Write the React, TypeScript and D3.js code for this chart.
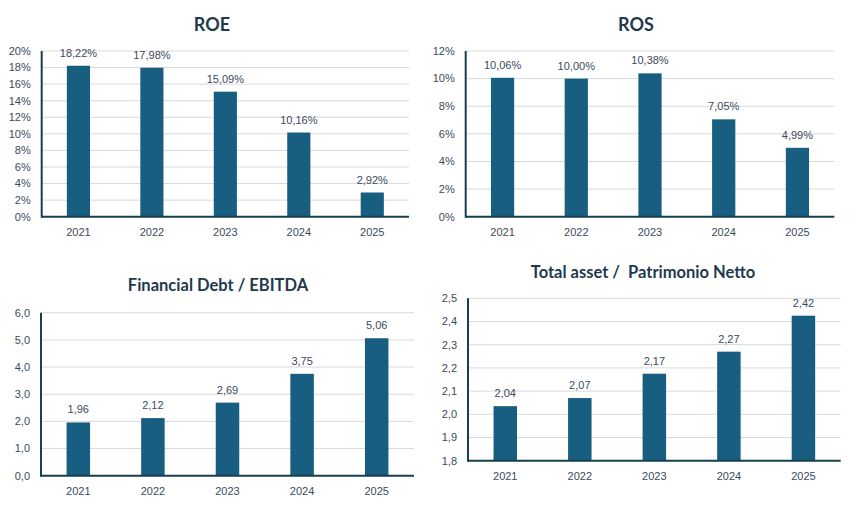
import React from "react";
import * as d3 from "d3";

const years = ["2021", "2022", "2023", "2024", "2025"];

const roeValues = [18.22, 17.98, 15.09, 10.16, 2.92];
const roeTicks = [0, 2, 4, 6, 8, 10, 12, 14, 16, 18, 20];

const rosValues = [10.06, 10.0, 10.38, 7.05, 4.99];
const rosTicks = [0, 2, 4, 6, 8, 10, 12];

const debtValues = [1.96, 2.12, 2.69, 3.75, 5.06];
const debtTicks = [0, 1, 2, 3, 4, 5, 6];

const assetValues = [2.035, 2.07, 2.175, 2.27, 2.425];
const assetLabels = ["2,04", "2,07", "2,17", "2,27", "2,42"];
const assetTicks = [1.8, 1.9, 2.0, 2.1, 2.2, 2.3, 2.4, 2.5];

const BAR = "#175e80";
const AXIS = "#153f52";
const GRID = "#d9d9d9";
const TEXT = "#3b4a5c";
const TITLE = "#1f3a4d";
const FONT = "'Liberation Sans', Arial, sans-serif";
const TITLE_FONT = "Lato, 'Open Sans', sans-serif";

const comma = (s: string) => s.replace(".", ",");

interface PanelProps {
  title: string;
  titleX: number;
  titleY: number;
  titleSize: number;
  x0: number;
  x1: number;
  yTop: number;
  yBottom: number;
  values: number[];
  ticks: number[];
  tickFmt: (v: number) => string;
  labelFmt: (v: number, i: number) => string;
}

const Panel: React.FC<PanelProps> = (p) => {
  const x = d3
    .scaleBand<string>()
    .domain(years)
    .range([p.x0, p.x1])
    .paddingInner(0.685)
    .paddingOuter(0.3425);
  const y = d3
    .scaleLinear()
    .domain([p.ticks[0], p.ticks[p.ticks.length - 1]])
    .range([p.yBottom, p.yTop]);

  return (
    <g>
      <text
        x={p.titleX}
        y={p.titleY}
        textAnchor="middle"
        dominantBaseline="central"
        fontFamily={TITLE_FONT}
        fontWeight={700}
        fontSize={p.titleSize}
        fill={TITLE}
        style={{ whiteSpace: "pre" }}
      >
        {p.title}
      </text>
      {p.ticks.map((t, i) => (
        <g key={i}>
          {i > 0 && (
            <line x1={p.x0} x2={p.x1} y1={y(t)} y2={y(t)} stroke={GRID} strokeWidth={1} />
          )}
          <text
            x={p.x0 - 11}
            y={y(t)}
            dy="0.35em"
            textAnchor="end"
            fontFamily={FONT}
            fontSize={11}
            fill={TEXT}
          >
            {p.tickFmt(t)}
          </text>
        </g>
      ))}
      {p.values.map((v, i) => (
        <g key={years[i]}>
          <rect
            x={x(years[i])}
            y={y(v)}
            width={x.bandwidth()}
            height={p.yBottom - y(v)}
            fill={BAR}
          />
          <text
            x={(x(years[i]) || 0) + x.bandwidth() / 2}
            y={y(v) - 9}
            textAnchor="middle"
            fontFamily={FONT}
            fontSize={11}
            fill={TEXT}
          >
            {p.labelFmt(v, i)}
          </text>
          <text
            x={(x(years[i]) || 0) + x.bandwidth() / 2}
            y={p.yBottom + 19}
            textAnchor="middle"
            fontFamily={FONT}
            fontSize={11}
            fill={TEXT}
          >
            {years[i]}
          </text>
        </g>
      ))}
      <line x1={p.x0} x2={p.x1} y1={p.yBottom} y2={p.yBottom} stroke={AXIS} strokeWidth={2} />
      <line x1={p.x0} x2={p.x0} y1={p.yTop} y2={p.yBottom + 1} stroke={AXIS} strokeWidth={2} />
    </g>
  );
};

const pct = (v: number) => `${v}%`;
const pct2 = (v: number) => comma(v.toFixed(2)) + "%";
const one = (v: number) => comma(v.toFixed(1));
const two = (v: number) => comma(v.toFixed(2));

export default function App() {
  return (
    <svg
      width={857}
      height={520}
      style={{ position: "absolute", left: 0, top: 0, background: "#fff" }}
    >
      <Panel
        title="ROE"
        titleX={212}
        titleY={24}
        titleSize={18}
        x0={41.7}
        x1={409}
        yTop={51}
        yBottom={216.7}
        values={roeValues}
        ticks={roeTicks}
        tickFmt={pct}
        labelFmt={pct2}
      />
      <Panel
        title="ROS"
        titleX={636}
        titleY={24}
        titleSize={18}
        x0={465.7}
        x1={834.3}
        yTop={51}
        yBottom={216.7}
        values={rosValues}
        ticks={rosTicks}
        tickFmt={pct}
        labelFmt={pct2}
      />
      <Panel
        title="Financial Debt / EBITDA"
        titleX={218}
        titleY={285}
        titleSize={16.5}
        x0={41}
        x1={414}
        yTop={312.7}
        yBottom={475.7}
        values={debtValues}
        ticks={debtTicks}
        tickFmt={one}
        labelFmt={two}
      />
      <Panel
        title="Total asset /  Patrimonio Netto"
        titleX={643}
        titleY={271.7}
        titleSize={16.5}
        x0={468}
        x1={840.7}
        yTop={298.3}
        yBottom={460.7}
        values={assetValues}
        ticks={assetTicks}
        tickFmt={one}
        labelFmt={(_v, i) => assetLabels[i]}
      />
    </svg>
  );
}
